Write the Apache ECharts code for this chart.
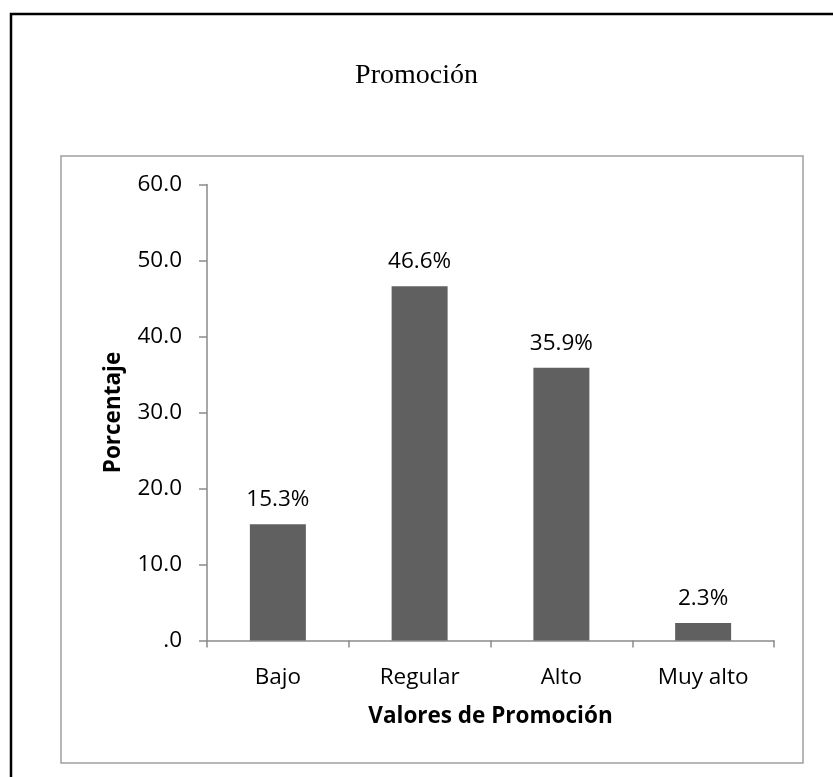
<!DOCTYPE html>
<html>
<head>
<meta charset="utf-8">
<title>Promoción</title>
<script src="https://cdn.jsdelivr.net/npm/echarts@6/dist/echarts.min.js"></script>
<style>
  html, body { margin: 0; padding: 0; background: #ffffff; }
  #chart { width: 833px; height: 777px; }
</style>
</head>
<body>
<div id="chart"></div>
<script>
// Percentage distribution by promotion level
const categories = ['Bajo', 'Regular', 'Alto', 'Muy alto'];
const percentages = [15.3, 46.6, 35.9, 2.3];
const yTicks = { min: 0, max: 60, interval: 10 };

const chart = echarts.init(document.getElementById('chart'), null, { renderer: 'canvas' });

const sansFont = '"Open Sans", "Noto Sans", sans-serif';
const axisGray = '#8a8a8a';
const labelSize = 22.5;

chart.setOption({
  backgroundColor: '#ffffff',
  animation: false,
  title: {
    text: 'Promoción',
    left: 'center',
    top: 57,
    textStyle: {
      fontFamily: '"Liberation Serif", "DejaVu Serif", serif',
      fontWeight: 'normal',
      fontSize: 28,
      color: '#000000'
    }
  },
  graphic: [
    {
      type: 'rect',
      silent: true,
      shape: { x: 11, y: 14, width: 900, height: 900 },
      style: { fill: null, stroke: '#000000', lineWidth: 2.5 }
    },
    {
      type: 'rect',
      silent: true,
      shape: { x: 61, y: 156, width: 742, height: 607 },
      style: { fill: null, stroke: '#a0a0a0', lineWidth: 1.5 }
    }
  ],
  grid: {
    left: 207,
    right: 59,
    top: 184.5,
    bottom: 136.5,
    containLabel: false
  },
  xAxis: {
    type: 'category',
    data: categories,
    name: 'Valores de Promoción',
    nameLocation: 'middle',
    nameGap: 65,
    nameTextStyle: {
      fontFamily: sansFont,
      fontWeight: 'bold',
      fontSize: 22.5,
      color: '#000000'
    },
    axisLine: { show: true, lineStyle: { color: axisGray, width: 1.5 } },
    axisTick: { show: true, alignWithLabel: false, length: 7, lineStyle: { color: axisGray, width: 1.5 } },
    axisLabel: {
      margin: 26,
      fontFamily: sansFont,
      fontSize: labelSize,
      color: '#000000'
    },
    splitLine: { show: false }
  },
  yAxis: {
    type: 'value',
    min: yTicks.min,
    max: yTicks.max,
    interval: yTicks.interval,
    name: 'Porcentaje',
    nameLocation: 'middle',
    nameRotate: 90,
    nameGap: 82,
    nameTextStyle: {
      fontFamily: sansFont,
      fontWeight: 'bold',
      fontSize: 22.5,
      color: '#000000'
    },
    axisLine: { show: true, lineStyle: { color: axisGray, width: 1.5 } },
    axisTick: { show: true, inside: false, length: 8, lineStyle: { color: axisGray, width: 1.5 } },
    axisLabel: {
      margin: 25,
      fontFamily: sansFont,
      fontSize: labelSize,
      color: '#000000',
      formatter: function (v) { return v === 0 ? '.0' : v.toFixed(1); }
    },
    splitLine: { show: false }
  },
  series: [
    {
      type: 'bar',
      data: percentages,
      barWidth: 56,
      itemStyle: { color: '#606060' },
      label: {
        show: true,
        position: 'top',
        distance: 13,
        fontFamily: sansFont,
        fontSize: labelSize,
        color: '#000000',
        formatter: function (p) { return p.value.toFixed(1) + '%'; }
      }
    }
  ]
});
</script>
</body>
</html>
